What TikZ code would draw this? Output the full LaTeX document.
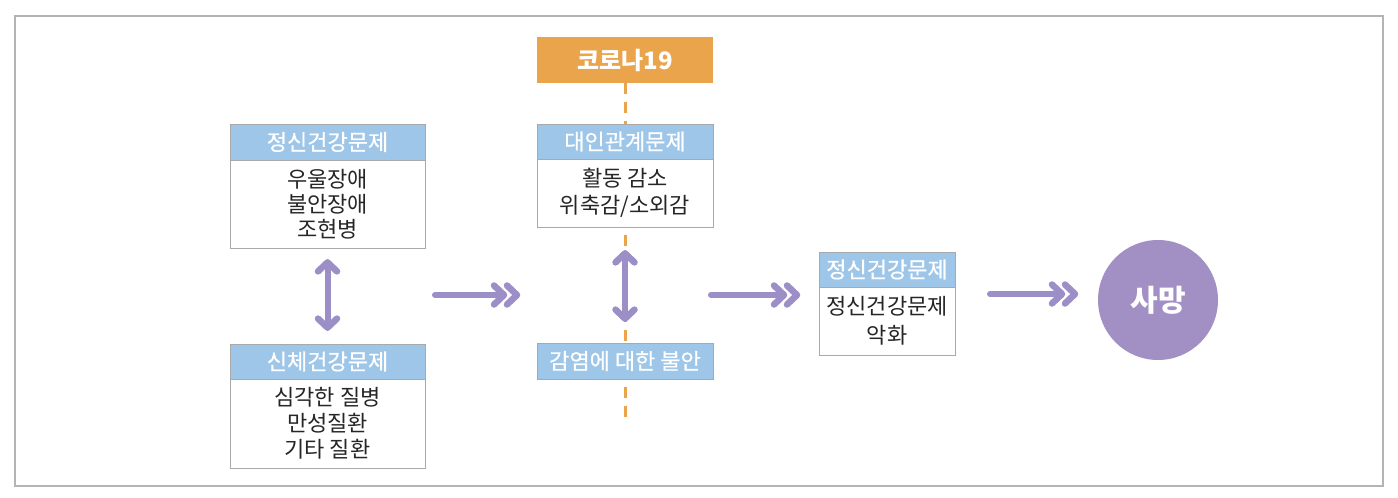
\documentclass[tikz,border=0pt]{standalone}
\usepackage{fontspec}
\setmainfont{Noto Sans CJK KR}
\newfontfamily\krmed{Noto Sans CJK KR}[FakeBold=0.6]
\usetikzlibrary{calc}
\definecolor{hdr}{HTML}{9DC6E9}
\definecolor{orng}{HTML}{E9A44C}
\definecolor{purp}{HTML}{9C8EC7}
\definecolor{circ}{HTML}{A290C5}
\definecolor{frm}{HTML}{B4B4B4}
\definecolor{bdr}{HTML}{A9A9A9}
\definecolor{txt}{HTML}{262626}
\newcommand\myharrow[2]{%
  \draw[shaft] (#1) -- ($(#2)+(-14,0)$);
  \draw[chev] ($(#2)+(-23,-9.5)$) -- ($(#2)+(-13,0)$) -- ($(#2)+(-23,9.5)$);
  \draw[chev] ($(#2)+(-10,-9.5)$) -- (#2) -- ($(#2)+(-10,9.5)$);}
\newcommand\myvarrow[2]{%
  \draw[shaft] (#1) -- (#2);
  \draw[chev] ($(#1)+(-9.5,9)$) -- (#1) -- ($(#1)+(9.5,9)$);
  \draw[chev] ($(#2)+(-9.5,-9)$) -- (#2) -- ($(#2)+(9.5,-9)$);}
\begin{document}
\begin{tikzpicture}[x=1pt,y=-1pt,
 hdrbox/.style={draw=bdr, line width=0.8pt, fill=hdr, text=white, inner sep=0pt, font=\krmed\fontsize{22}{24}\selectfont},
 bodybox/.style={draw=bdr, line width=0.8pt, fill=white, text=txt, inner sep=0pt, align=center},
 shaft/.style={draw=purp, line width=6pt, line cap=round},
 chev/.style={draw=purp, line width=6.5pt, line cap=round, line join=round},
 dashl/.style={draw=orng, line width=3pt, dash pattern=on 11pt off 8pt}]
\useasboundingbox (0,0) rectangle (1398,498);
\draw[frm, line width=2pt] (15,16) rectangle (1383,486);

% orange dashed axis (behind)
\node[fill=orng, text=white, inner sep=0pt, minimum width=176pt, minimum height=46pt,
      font=\fontsize{24}{27}\selectfont\bfseries] (cor) at (625,60) {코로나19};
\coordinate (dend) at (625,421);
\draw[dashl] (cor.south) -- (dend);

% left column
\node[hdrbox, minimum width=195pt, minimum height=36pt] (th) at (327.5,142) {정신건강문제};
\node[bodybox, minimum width=195pt, minimum height=88pt, font=\fontsize{22}{25}\selectfont] (tb) at (327.5,204) {우울장애\\불안장애\\조현병};
\node[hdrbox, minimum width=195pt, minimum height=35pt] (bh) at (327.5,361.5) {신체건강문제};
\node[bodybox, minimum width=195pt, minimum height=89pt, font=\fontsize{22}{26}\selectfont] (bb) at (327.5,423.5) {심각한 질병\\만성질환\\기타 질환};

% middle column
\node[hdrbox, minimum width=176pt, minimum height=35pt] (mh) at (625,141.5) {대인관계문제};
\node[bodybox, minimum width=176pt, minimum height=68pt, font=\fontsize{22}{27}\selectfont] (mb) at (625,193) {활동 감소\\위축감/소외감};
\node[hdrbox, minimum width=176pt, minimum height=36pt] (ih) at (625,361) {감염에 대한 불안};

% right box
\node[hdrbox, minimum width=136pt, minimum height=35pt] (rh) at (887,269.5) {정신건강문제};
\node[bodybox, minimum width=136pt, minimum height=68pt, font=\fontsize{22}{29}\selectfont] (rb) at (887,321) {정신건강문제\\악화};

% death circle
\node[circle, fill=circ, text=white, minimum size=120pt, inner sep=0pt,
      font=\fontsize{30}{32}\selectfont\bfseries] (death) at (1158,300) {사망};

% vertical double arrows
\myvarrow{$(tb.south)+(0,14)$}{$(bh.north)+(0,-16)$}
\myvarrow{$(mb.south)+(0,26)$}{$(ih.north)+(0,-24)$}

% horizontal arrows
\coordinate (a1s) at (435,295);
\coordinate (a1e) at (517,295);
\coordinate (a2s) at (711,295);
\coordinate (a2e) at (797,295);
\coordinate (a3s) at (990,294);
\coordinate (a3e) at (1075,294);
\myharrow{a1s}{a1e}
\myharrow{a2s}{a2e}
\myharrow{a3s}{a3e}
\end{tikzpicture}
\end{document}
